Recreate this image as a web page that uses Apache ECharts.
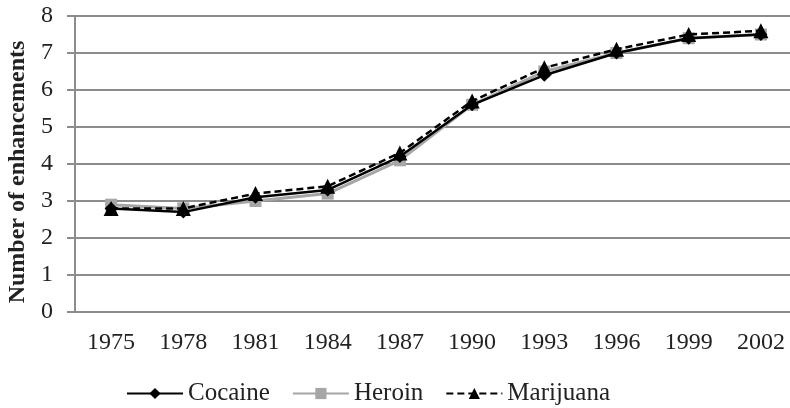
<!DOCTYPE html>
<html>
<head>
<meta charset="utf-8">
<script src="https://cdn.jsdelivr.net/npm/echarts@6/dist/echarts.min.js"></script>
<style>
    html, body {margin: 0; padding: 0; background: #fff;}
    #chart {width: 790px; height: 408px;}
</style>
</head>
<body>
<div id="chart"></div>
<script>
    // values
    const years = ['1975', '1978', '1981', '1984', '1987', '1990', '1993', '1996', '1999', '2002'];
    const cocaine = [2.8, 2.7, 3.1, 3.3, 4.2, 5.6, 6.4, 7.0, 7.4, 7.5];
    const heroin = [2.9, 2.8, 3.0, 3.2, 4.1, 5.6, 6.5, 7.0, 7.4, 7.5];
    const marijuana = [2.8, 2.8, 3.2, 3.4, 4.3, 5.7, 6.6, 7.1, 7.5, 7.6];

    const font = 'Liberation Serif';
    const gridColor = '#8c8c8c';

    const chart = echarts.init(document.getElementById('chart'));
    const option = {
        animation: false,
        textStyle: {fontFamily: font},
        // plot runs a little past the right edge, like the original
        grid: {left: 75, top: 16, width: 722, height: 296, outerBoundsMode: 'none', containLabel: false},
        legend: {
            top: 376,
            left: 121,
            itemWidth: 56,
            itemHeight: 14,
            itemGap: 22,
            textStyle: {fontFamily: font, fontSize: 25, color: '#222'},
            data: ['Cocaine', 'Heroin', 'Marijuana']
        },
        xAxis: {
            type: 'category',
            data: years,
            boundaryGap: true,
            axisLine: {lineStyle: {color: gridColor, width: 2}},
            axisTick: {length: 7, lineStyle: {color: gridColor, width: 2}},
            axisLabel: {fontFamily: font, fontSize: 24, color: '#222', margin: 19}
        },
        yAxis: {
            type: 'value',
            min: 0,
            max: 8,
            interval: 1,
            name: 'Number of enhancements',
            nameLocation: 'middle',
            nameGap: 43,
            // right padding pushes the rotated title a bit lower
            nameTextStyle: {fontFamily: font, fontSize: 24, fontWeight: 'bold', color: '#222', padding: [0, 16, 0, 0]},
            axisLine: {show: true, lineStyle: {color: gridColor, width: 2}},
            axisTick: {show: true, length: 8, lineStyle: {color: gridColor, width: 2}},
            axisLabel: {fontFamily: font, fontSize: 24, color: '#222', margin: 22},
            splitLine: {lineStyle: {color: gridColor, width: 2}}
        },
        series: [
            {
                name: 'Heroin',
                type: 'line',
                data: heroin,
                symbol: 'rect',
                symbolSize: 12,
                z: 2,
                itemStyle: {color: '#a6a6a6'},
                lineStyle: {color: '#a6a6a6', width: 3}
            },
            {
                name: 'Cocaine',
                type: 'line',
                data: cocaine,
                symbol: 'diamond',
                symbolSize: 13,
                z: 3,
                itemStyle: {color: '#000'},
                lineStyle: {color: '#000', width: 2.5}
            },
            {
                name: 'Marijuana',
                type: 'line',
                data: marijuana,
                symbol: 'triangle',
                symbolSize: 15,
                z: 4,
                itemStyle: {color: '#000'},
                lineStyle: {color: '#000', width: 2.5, type: [7, 4]}
            }
        ]
    };
    chart.setOption(option);
</script>
</body>
</html>
